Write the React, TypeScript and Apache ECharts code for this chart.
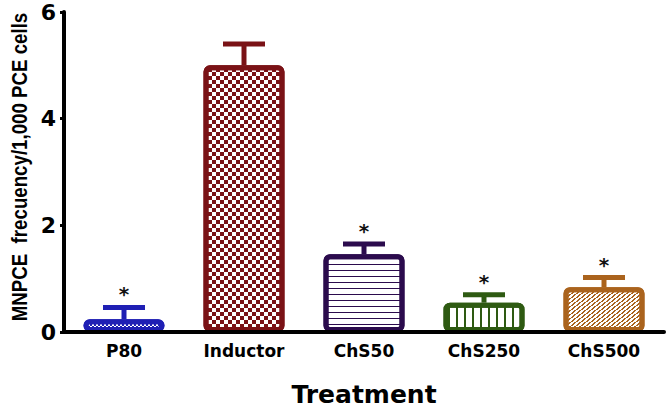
import React, { useEffect, useRef } from "react";
import * as echarts from "echarts";

const categories = ["P80", "Inductor", "ChS50", "ChS250", "ChS500"];
const means = [0.24, 5.0, 1.46, 0.55, 0.84];
const errors = [0.22, 0.4, 0.19, 0.15, 0.18];
const significant = [true, false, true, true, true];
const colors = ["#1f1fb4", "#7a1216", "#2b0b4d", "#2e5a12", "#aa631d"];
const yTicks = [0, 2, 4, 6];
const yTitle = "MNPCE  frecuency/1,000 PCE cells";
const xTitle = "Treatment";

const WIDE = "'DejaVu Sans', Verdana, sans-serif";
const ARIAL = "'Liberation Sans', Arial, sans-serif";

const decals: any[] = [
  { symbol: "rect", symbolSize: 1, dashArrayX: [[2, 2], [0, 2, 2, 0]], dashArrayY: [2, 0] },
  { symbol: "rect", symbolSize: 1, dashArrayX: [[3.4, 3.4], [0, 3.4, 3.4, 0]], dashArrayY: [3.4, 0] },
  { symbol: "rect", symbolSize: 1, dashArrayX: [1, 0], dashArrayY: [1, 4.2] },
  { symbol: "rect", symbolSize: 1, dashArrayX: [1.4, 5.2], dashArrayY: [1, 0] },
  {
    symbol: "rect",
    symbolSize: 1,
    dashArrayX: [
      [0, 2.5, 1.5, 0],
      [0, 1.5, 1.5, 1],
      [0, 0.5, 1.5, 2],
      [1, 2.5, 0.5, 0],
    ],
    dashArrayY: [1, 0],
  },
];

export default function App() {
  const ref = useRef<HTMLDivElement>(null);
  useEffect(() => {
    document.body.style.margin = "0";
    if (!ref.current) return;
    const chart = echarts.init(ref.current, null, { renderer: "svg" });
    const option: any = {
      animation: false,
      backgroundColor: "#ffffff",
      aria: { enabled: true, decal: { show: true } },
      grid: { left: 64, top: 12, width: 600, height: 320, containLabel: false, outerBoundsMode: "none" },
      graphic: [
        {
          type: "text",
          x: 19,
          y: 167,
          rotation: Math.PI / 2,
          scaleX: 0.85,
          style: {
            text: yTitle,
            fontFamily: ARIAL,
            fontWeight: "bold",
            fontSize: 22,
            fill: "#000",
            align: "center",
            verticalAlign: "middle",
          },
        },
      ],
      xAxis: {
        type: "category",
        data: categories,
        z: 5,
        name: xTitle,
        nameLocation: "middle",
        nameGap: 50,
        nameTextStyle: { fontFamily: WIDE, fontWeight: "bold", fontSize: 25, color: "#000", lineHeight: 25 },
        axisLine: { lineStyle: { color: "#000", width: 4 } },
        axisTick: { alignWithLabel: true, length: 4, lineStyle: { color: "#000", width: 3 } },
        axisLabel: { fontFamily: WIDE, fontWeight: "bold", fontSize: 17, color: "#000", margin: 10 },
      },
      yAxis: {
        type: "value",
        min: yTicks[0],
        max: yTicks[yTicks.length - 1],
        interval: 2,
        z: 5,
        axisLine: { show: true, lineStyle: { color: "#000", width: 4 } },
        axisTick: { show: true, length: 4, lineStyle: { color: "#000", width: 3 } },
        axisLabel: { fontFamily: WIDE, fontWeight: "bold", fontSize: 22, color: "#000", margin: 8 },
        splitLine: { show: false },
      },
      series: [
        {
          type: "bar",
          barWidth: 81,
          z: 2,
          data: means.map((v, i) => ({
            value: v,
            itemStyle: {
              color: "#ffffff",
              borderColor: colors[i],
              borderWidth: 5,
              borderRadius: 4,
              decal: { ...decals[i], color: colors[i], backgroundColor: "#ffffff" },
            },
          })),
        },
        {
          type: "custom",
          z: 3,
          data: categories.map((c, i) => [i, means[i], errors[i]]),
          renderItem: (params: any, api: any) => {
            const i = api.value(0);
            const m = api.value(1);
            const e = api.value(2);
            const base = api.coord([i, m]);
            const top = api.coord([i, m + e]);
            const color = colors[i];
            const half = 21;
            const children: any[] = [
              { type: "line", shape: { x1: base[0], y1: base[1], x2: top[0], y2: top[1] }, style: { stroke: color, lineWidth: 5 } },
              { type: "line", shape: { x1: top[0] - half, y1: top[1], x2: top[0] + half, y2: top[1] }, style: { stroke: color, lineWidth: 5 } },
            ];
            if (significant[i]) {
              children.push({
                type: "text",
                x: top[0],
                y: top[1] - 13,
                style: { text: "*", fontSize: 20, fontWeight: "bold", fill: "#111", align: "center", verticalAlign: "middle", fontFamily: WIDE },
              });
            }
            return { type: "group", children };
          },
        },
      ],
    };
    chart.setOption(option);
    return () => chart.dispose();
  }, []);
  return <div ref={ref} style={{ width: 672, height: 409 }} />;
}
